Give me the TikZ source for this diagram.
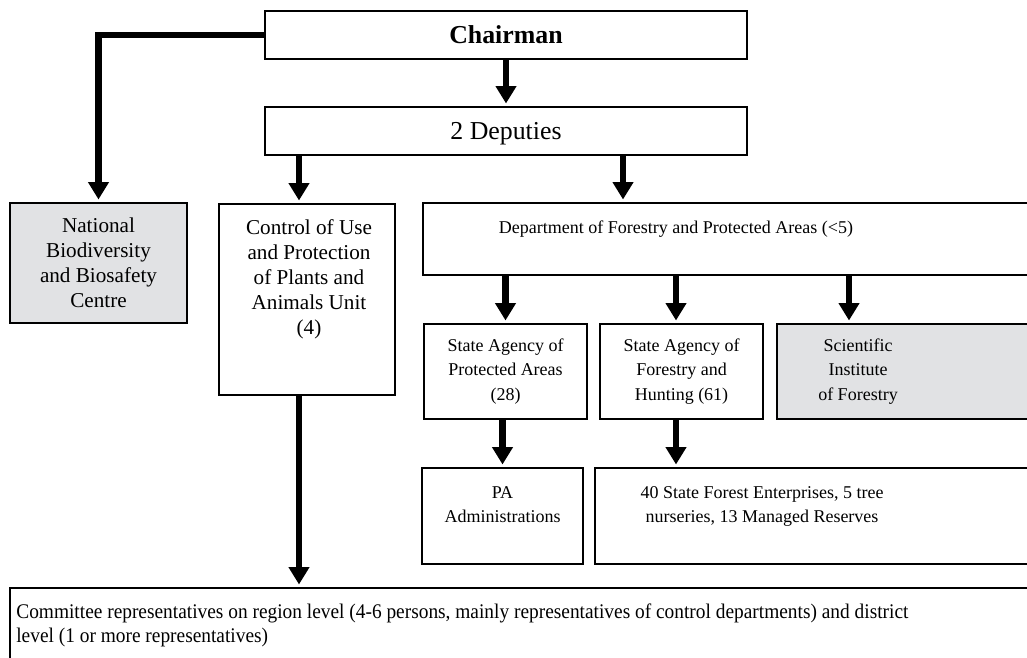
\documentclass[tikz,border=0pt]{standalone}
\usepackage{fontspec}
\setmainfont{Liberation Serif}
\newfontfamily\narrowserif[FakeStretch=0.93]{Liberation Serif}
\usetikzlibrary{arrows.meta}
\definecolor{boxgray}{RGB}{225,226,228}
\def\pu{0.6pt}

\begin{document}
\begin{tikzpicture}[x=0.6pt, y=-0.6pt,
    box/.style={draw, line width=1.2pt, inner sep=0pt, align=center},
    grey/.style={box, fill=boxgray},
    txt/.style={inner sep=0pt, align=center},
    head/.style={font=\fontsize{15.5}{18}\selectfont, text depth=0pt},
    big/.style={font=\fontsize{12.7}{15}\selectfont},
    small/.style={font=\fontsize{10.8}{14.5}\selectfont},
    arr/.style={line width=4pt, -{Triangle[width=12pt, length=10.5pt]}, shorten >=1.5pt}]
    \useasboundingbox (0,0) rectangle (1027,657);
    \clip (0,0) rectangle (1027,657);

    % 1. Chairman and deputies
    \node[box, head, minimum width=482*\pu, minimum height=48*\pu] (chair) at (506,35) {\textbf{Chairman}};
    \node[box, head, minimum width=482*\pu, minimum height=48*\pu] (dep) at (506,131) {2 Deputies};

    % 2. Second row
    \node[grey, big, minimum width=177*\pu, minimum height=120*\pu] (nbbc) at (98.5,263)
        {National\\Biodiversity\\and Biosafety\\Centre};
    \node[box, minimum width=176*\pu, minimum height=191*\pu] (ctrl) at (307,299.5) {};
    \node[txt, big, anchor=north] (ctrltext) at (309,219.5)
        {Control of Use\\and Protection\\of Plants and\\Animals Unit\\(4)};
    \node[box, minimum width=622*\pu, minimum height=72*\pu] (dept) at (734,239) {};
    \node[txt, small, anchor=north] (depttext) at (676,220.5)
        {Department of Forestry and Protected Areas (<5)};

    % 3. Agencies
    \node[box, small, minimum width=163*\pu, minimum height=95*\pu] (sapa) at (505.5,371.5)
        {State Agency of\\Protected Areas\\(28)};
    \node[box, small, minimum width=163*\pu, minimum height=95*\pu] (safh) at (681.5,371.5)
        {State Agency of\\Forestry and\\Hunting (61)};
    \node[grey, minimum width=268*\pu, minimum height=95*\pu] (sif) at (911,371.5) {};
    \node[txt, small] (siftext) at (858,371.5) {Scientific\\Institute\\of Forestry};

    % 4. Lower units
    \node[box, minimum width=161*\pu, minimum height=96*\pu] (paadm) at (502.5,516) {};
    \node[txt, small, anchor=north] (paadmtext) at (502.5,486) {PA\\Administrations};
    \node[box, minimum width=450*\pu, minimum height=96*\pu] (sfe) at (820,516) {};
    \node[txt, small, anchor=north] (sfetext) at (762,486)
        {40 State Forest Enterprises, 5 tree\\nurseries, 13 Managed Reserves};

    % 5. Committee representatives
    \node[box, minimum width=1035*\pu, minimum height=92*\pu] (comm) at (527.5,634) {};
    \node[txt, align=left, anchor=north west, font=\narrowserif\fontsize{12.5}{14.4}\selectfont] (commtext) at (16,603)
        {Committee representatives on region level (4-6 persons, mainly representatives of control departments) and district\\level (1 or more representatives)};

    % 6. Arrows
    \draw[arr] (chair) -- (dep);
    \draw[arr] (chair.west) -| (nbbc.north);
    \draw[arr] ([xshift=-4.8pt]dep.south -| ctrl.north) -- ([xshift=-4.8pt]ctrl.north);
    \draw[arr] ([xshift=-66.6pt]dep.south -| dept.north) -- ([xshift=-66.6pt]dept.north);
    \draw[arr] (dept.south -| sapa.north) -- (sapa.north);
    \draw[arr] ([xshift=-3.3pt]dept.south -| safh.north) -- ([xshift=-3.3pt]safh.north);
    \draw[arr] ([xshift=-37.2pt]dept.south -| sif.north) -- ([xshift=-37.2pt]sif.north);
    \draw[arr] (sapa.south -| paadm.north) -- (paadm.north);
    \draw[arr] ([xshift=-3.3pt]safh.south) -- ([xshift=-3.3pt]safh.south |- sfe.north);
    \draw[arr] ([xshift=-4.8pt]ctrl.south) -- ([xshift=-4.8pt]ctrl.south |- comm.north);
\end{tikzpicture}
\end{document}
